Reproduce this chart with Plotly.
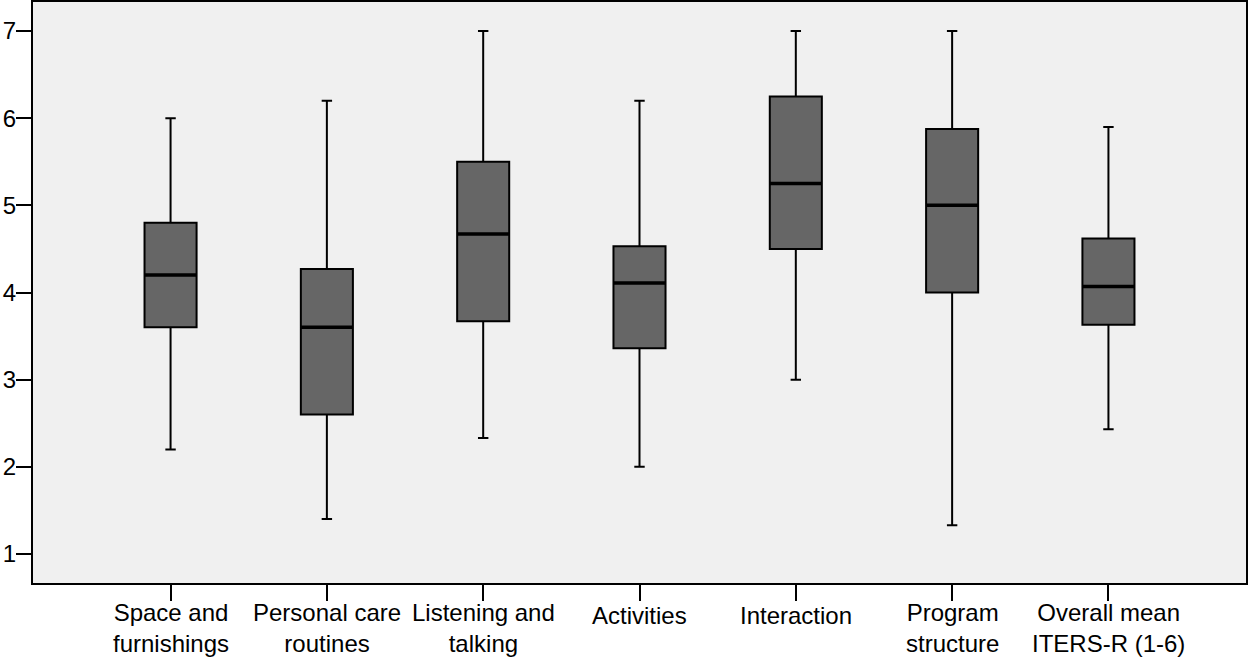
import plotly.graph_objects as go

categories = ["Space and<br>furnishings", "Personal care<br>routines", "Listening and<br>talking",
              "Activities", "Interaction", "Program<br>structure", "Overall mean<br>ITERS-R (1-6)"]
lower = [2.2, 1.4, 2.33, 2.0, 3.0, 1.33, 2.43]
q1 = [3.6, 2.6, 3.67, 3.36, 4.5, 4.0, 3.63]
median = [4.2, 3.6, 4.67, 4.11, 5.25, 5.0, 4.07]
q3 = [4.8, 4.27, 5.5, 4.53, 6.25, 5.875, 4.62]
upper = [6.0, 6.2, 7.0, 6.2, 7.0, 7.0, 5.9]
y_ticks = [1, 2, 3, 4, 5, 6, 7]

BOX_W = 0.333
FONT = "Liberation Sans"
FS = 24

fig = go.Figure()
xs = list(range(len(categories)))
fig.add_trace(go.Box(
    x=xs, q1=q1, median=median, q3=q3, lowerfence=lower, upperfence=upper,
    width=BOX_W, whiskerwidth=0.2,
    fillcolor="#666666", line=dict(color="#000000", width=2),
    boxpoints=False, showlegend=False, hoverinfo="skip",
))
# thicker median lines
mx, my = [], []
for i, m in zip(xs, median):
    mx += [i - BOX_W / 2, i + BOX_W / 2, None]
    my += [m, m, None]
fig.add_trace(go.Scatter(x=mx, y=my, mode="lines", line=dict(color="#000000", width=3.5),
                         showlegend=False, hoverinfo="skip"))

# category labels
for i, label in enumerate(categories):
    two = "<br>" in label
    fig.add_annotation(x=i, y=0, xref="x", yref="paper", text=label, showarrow=False,
                       yanchor="middle", yshift=-45 if two else -32, borderpad=0,
                       font=dict(family=FONT, size=FS, color="#000"))

fig.update_layout(
    width=1248, height=657,
    margin=dict(l=33, r=2, t=2, b=74),
    paper_bgcolor="white", plot_bgcolor="#f0f0f0",
    font=dict(family=FONT, size=FS, color="#000000"),
)
fig.update_xaxes(
    range=[-0.88, 6.88], tickvals=xs, ticktext=["" for _ in xs],
    showgrid=False, zeroline=False, automargin=False,
    showline=True, mirror=True, linecolor="#000000", linewidth=2,
    ticks="outside", ticklen=16, tickwidth=2, tickcolor="#000000",
)
fig.update_yaxes(
    range=[0.667, 7.333], tickvals=y_ticks,
    showgrid=False, zeroline=False, automargin=False,
    showline=True, mirror=True, linecolor="#000000", linewidth=2,
    ticks="outside", ticklen=15, tickwidth=2, tickcolor="#000000",
    tickfont=dict(family=FONT, size=FS), ticklabelstandoff=-5,
)
fig.write_html("out.html", config={"displayModeBar": False},
               post_script="document.body.style.margin='0';document.body.style.padding='0';")
